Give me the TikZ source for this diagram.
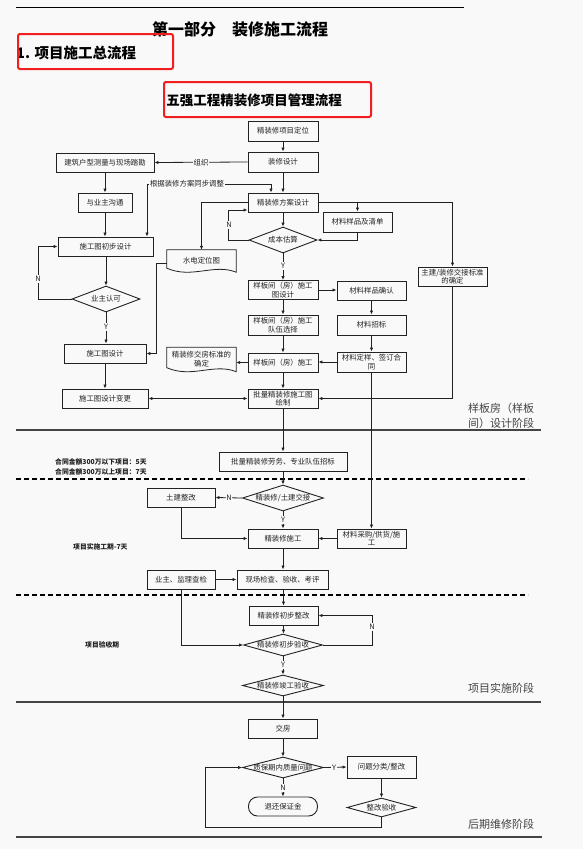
\documentclass[tikz,border=0pt]{standalone}
\usepackage{fontspec}
\setmainfont{Noto Sans CJK SC}
\usetikzlibrary{arrows.meta,shapes.geometric,calc}
\definecolor{bg}{HTML}{F9F9F9}
\definecolor{lnc}{HTML}{222222}
\definecolor{stg}{HTML}{444444}
\definecolor{redbox}{HTML}{F01E1E}
\begin{document}
\begin{tikzpicture}[x=1pt,y=-1pt,
  box/.style={draw=lnc, line width=0.9pt, rectangle, inner sep=0pt, minimum height=19pt, font=\fontsize{7.4}{8.6}\selectfont, text=lnc, align=center},
  dia/.style={draw=lnc, line width=0.9pt, diamond, inner sep=0pt},
  dtext/.style={font=\fontsize{7.4}{8.6}\selectfont, text=lnc, inner sep=0pt},
  arr/.style={draw=lnc, line width=0.8pt, -{Latex[length=4pt,width=3.4pt]}},
  dblarr/.style={draw=lnc, line width=0.8pt, {Latex[length=4pt,width=3.4pt]}-{Latex[length=4pt,width=3.4pt]}},
  conn/.style={draw=lnc, line width=0.8pt},
  lab/.style={font=\fontsize{7.4}{8}\selectfont, text=lnc, fill=bg, inner sep=0.8pt},
  note/.style={font=\bfseries\fontsize{6.8}{8}\selectfont, text=lnc, inner sep=0pt, anchor=west},
  stage/.style={font=\fontsize{11}{15}\selectfont, text=stg, align=left, inner sep=0pt, anchor=west},
  sep/.style={draw=stg, line width=1.6pt},
  dsep/.style={draw=black, line width=1.3pt, dash pattern=on 5pt off 3pt},
  docnode/.style={inner sep=0pt, minimum width=69pt, font=\fontsize{7.4}{9}\selectfont, text=lnc, align=center},
]
\fill[bg] (0,0) rectangle (583,849);
\useasboundingbox (0,0) rectangle (583,849);

% header
\draw[black, line width=0.9pt] (16,7) -- (464,7);
\node[font=\bfseries\fontsize{16}{18}\selectfont, inner sep=0pt] (title) at (240,29) {第一部分\quad 装修施工流程};
\node[font=\bfseries\fontsize{14.5}{16}\selectfont, inner sep=0pt, anchor=west] (sub) at (16,53) {1. 项目施工总流程};
\draw[redbox, line width=2pt, rounded corners=2pt] (18,34) rectangle (173,69);
\node[font=\bfseries\fontsize{13.5}{15}\selectfont, inner sep=0pt] (mtitle) at (254,100) {五强工程精装修项目管理流程};
\draw[redbox, line width=2pt, rounded corners=2pt] (164,82) rectangle (371,117);

% stage separators
\draw[sep] (16,430) -- (541,430);
\draw[dsep] (16,479) -- (528,479);
\draw[dsep] (16,595) -- (528,595);
\draw[sep] (16,702) -- (541,702);
\draw[sep] (16,837) -- (542,837);

\node[stage] (st1) at (468,415.5) {样板房（样板\\间）设计阶段};
\node[stage] (st2) at (468,688) {项目实施阶段};
\node[stage] (st3) at (468,824) {后期维修阶段};

\node[note] (n1) at (55,462) {合同金额300万以下项目：5天};
\node[note] (n2) at (55,472) {合同金额300万以上项目：7天};
\node[note] (n3) at (73,547) {项目实施工期-7天};
\node[note] (n4) at (85,645) {项目验收期};

% boxes
\node[box, minimum width=70pt, minimum height=20pt] (dingwei) at (283,131) {精装修项目定位};
\node[box, minimum width=70pt, minimum height=20pt] (zxsj) at (283,162) {装修设计};
\node[box, minimum width=98pt] (jzcl) at (105,162.5) {建筑户型测量与现场踏勘};
\node[box, minimum width=54pt] (gt) at (105,202.5) {与业主沟通};
\node[box, minimum width=70pt] (fasj) at (283,202.5) {精装修方案设计};
\node[box, minimum width=69pt, minimum height=20pt] (clyp) at (357.5,222) {材料样品及清单};
\node[box, minimum width=69pt] (zj) at (452.5,276.5) {主建/装修交接标准\\的确定};
\node[box, minimum width=95pt] (cbsj) at (105.5,246.5) {施工图初步设计};
\node[box, minimum width=70pt] (ybsj) at (283,290) {样板间（房）施工\\图设计};
\node[box, minimum width=69pt] (clqr) at (371.5,290.5) {材料样品确认};
\node[box, minimum width=70pt, minimum height=20pt] (ybdw) at (283,325) {样板间（房）施工\\队伍选择};
\node[box, minimum width=69pt, minimum height=20pt] (clzb) at (371.5,325) {材料招标};
\node[box, minimum width=70pt] (ybsg) at (283,362.5) {样板间（房）施工};
\node[box, minimum width=69pt, minimum height=20pt] (clding) at (371.5,362) {材料定样、签订合\\同};
\node[box, minimum width=82pt] (sgt) at (105,353.5) {施工图设计};
\node[box, minimum width=86pt] (sgbg) at (105,398.5) {施工图设计变更};
\node[box, minimum width=70pt] (plsj) at (283,398.5) {批量精装修施工图\\绘制};
\node[box, minimum width=128pt] (plzb) at (283,461.5) {批量精装修劳务、专业队伍招标};
\node[box, minimum width=68pt] (tjzg) at (181,497.5) {土建整改};
\node[box, minimum width=70pt] (jzsg) at (283,538.5) {精装修施工};
\node[box, minimum width=69pt] (clcg) at (371.5,538.5) {材料采购/供货/施\\工};
\node[box, minimum width=91pt] (jcys) at (282.5,579.5) {现场检查、验收、考评};
\node[box, minimum width=68pt] (jlcj) at (181,579.5) {业主、监理查检};
\node[box, minimum width=69pt] (cbzg) at (283.5,615.5) {精装修初步整改};
\node[box, minimum width=69pt] (jf) at (283,728.5) {交房};
\node[box, minimum width=69pt, minimum height=22pt] (wtfl) at (381.5,767) {问题分类/整改};
\node[box, minimum width=69pt, rounded corners=9pt] (thbz) at (283,806.5) {退还保证金};

% diamonds
\node[dia, minimum width=68pt, minimum height=26pt] (cbgs) at (283,240) {};
\node[dtext] (cbgs-t) at (cbgs) {成本估算};
\node[dia, minimum width=68pt, minimum height=26pt] (yzrk) at (106,299) {};
\node[dtext] (yzrk-t) at (yzrk) {业主认可};
\node[dia, minimum width=81pt, minimum height=26pt] (jj) at (283,498) {};
\node[dtext] (jj-t) at (jj) {精装修/土建交接};
\node[dia, minimum width=79pt, minimum height=22pt] (cbys) at (283,645) {};
\node[dtext] (cbys-t) at (cbys) {精装修初步验收};
\node[dia, minimum width=81pt, minimum height=21pt] (jgys) at (283,685.5) {};
\node[dtext] (jgys-t) at (jgys) {精装修竣工验收};
\node[dia, minimum width=81pt, minimum height=21pt] (zbq) at (283,767.5) {};
\node[dtext] (zbq-t) at (zbq) {质保期内质量问题};
\node[dia, minimum width=69pt, minimum height=19pt] (zgys) at (381.5,807.5) {};
\node[dtext] (zgys-t) at (zgys) {整改验收};

% document shapes
\node[docnode, minimum height=22pt] (sd) at (201.5,261) {水电定位图};
\draw[conn] (sd.north west) -- (sd.north east) -- (sd.south east)
  .. controls ($(sd.south east)+(-22,-9)$) and ($(sd.south west)+(25,7)$) .. ($(sd.south west)+(0,-4)$) -- cycle;
\node[docnode, minimum height=24pt] (jfbz) at (201.5,359.5) {精装修交房标准的\\确定};
\draw[conn] (jfbz.north west) -- (jfbz.north east) -- (jfbz.south east)
  .. controls ($(jfbz.south east)+(-22,-9)$) and ($(jfbz.south west)+(25,7)$) .. ($(jfbz.south west)+(0,-4)$) -- cycle;

% text on lines
\node[lab] (gj) at (187,184) {根据装修方案同步调整};

% connectors - design stage
\draw[arr] (dingwei) -- (zxsj);
\draw[arr] (zxsj.west) -- (jzcl.east) node[lab, pos=0.5] (zz) {组织};
\draw[arr] (jzcl) -- (gt);
\draw[arr] (gt.south) -- (gt.south |- cbsj.north);
\draw[arr] (gj.east) -| ($(fasj.north)+(-12,0)$);
\draw[arr] (gj.west) -| ($(cbsj.north)+(41.5,0)$);
\draw[arr] (zxsj) -- (fasj);
\draw[arr] (fasj.south) -- (cbgs.north);
\draw[arr] (fasj.east) -| (clyp.north);
\draw[arr] (fasj.east) -| (zj.north);
\draw[arr] (clyp.south) |- (cbgs.east);
\draw[arr] (cbgs.west) -- ++(-20,0) |- ($(fasj.west)+(0,7.5)$);
\node[lab] (nl1) at (229,225) {N};
\draw[arr] (fasj.west) -| (sd.north);
\draw[arr] ($(sd.west)+(0,2)$) -- ++(-10,0) |- (sgt.east);
\draw[arr] (cbsj.south -| yzrk.north) -- (yzrk.north);
\draw[arr] (yzrk.west) -- ++(-33,0) |- (cbsj.west);
\node[lab] (nl2) at (38,279) {N};
\draw[arr] (yzrk.south) -- (yzrk.south |- sgt.north);
\node[lab] (yl1) at (106,327) {Y};
\draw[arr] (sgt) -- (sgbg);
\draw[dblarr] (sgbg.east) -- (plsj.west);
\draw[arr] (cbgs.south) -- (ybsj.north);
\node[lab] (yl2) at (283,266) {Y};
\draw[arr] (ybsj.east) -- (ybsj.east -| clqr.west);
\draw[arr] (ybsj) -- (ybdw);
\draw[arr] (ybdw) -- (ybsg);
\draw[arr] (ybsg) -- (plsj);
\draw[arr] (clqr) -- (clzb);
\draw[arr] (clzb) -- (clding);
\draw[arr] (clding.west) -- (clding.west -| ybsg.east);
\draw[arr] (ybsg.west) -- (ybsg.west -| jfbz.east);
\draw[arr] (zj.south) |- (plsj.east);

% construction stage
\draw[arr] (plsj) -- (plzb);
\draw[arr] (clding) -- (clcg);
\draw[arr] (plzb.south) -- (jj.north);
\draw[arr] (jj.west) -- (tjzg.east);
\node[lab] (nl3) at (229,498) {N};
\draw[arr] (jj.south) -- (jzsg.north);
\node[lab] (yl3) at (283,520) {Y};
\draw[arr] (tjzg.south) |- (jzsg.west);
\draw[arr] (clcg) -- (jzsg);
\draw[arr] (jzsg.south) -- (jzsg.south |- jcys.north);
\draw[arr] (jlcj) -- (jcys);
\draw[arr] (jcys.south -| cbzg.north) -- (cbzg.north);
\draw[arr] (cbzg.south) -- (cbzg.south |- cbys.north);
\draw[arr] (jlcj.south) |- (cbys.west);
\draw[arr] (cbys.east) -- ++(49,0) |- (cbzg.east);
\node[lab] (nl4) at (372,627) {N};
\draw[arr] (cbys.south) -- (jgys.north);
\node[lab] (yl4) at (283,665) {Y};

% maintenance stage
\draw[arr] (jgys.south) -- (jf.north);
\draw[arr] (jf.south) -- (zbq.north);
\draw[arr] (zbq.east) -- (wtfl.west);
\node[lab] (yl5) at (334,767.5) {Y};
\draw[arr] (zbq.south) -- (thbz.north);
\node[lab] (nl5) at (283,788) {N};
\draw[arr] (wtfl.south) -- (zgys.north);
\draw[arr] (zgys.south) -- ++(0,10) -| ($(zbq.west)+(-37,0)$) -- (zbq.west);
\end{tikzpicture}
\end{document}
